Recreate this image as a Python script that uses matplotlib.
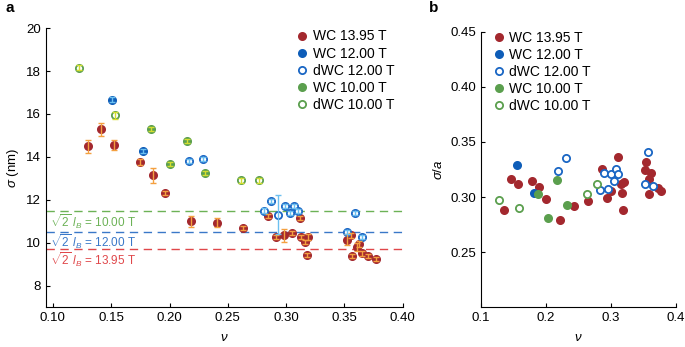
import matplotlib.pyplot as plt

plt.rcParams['font.family'] = ['Liberation Sans', 'DejaVu Sans']
plt.rcParams['mathtext.fontset'] = 'custom'
plt.rcParams['mathtext.rm'] = 'Liberation Sans'
plt.rcParams['mathtext.it'] = 'Liberation Sans:italic'
plt.rcParams['mathtext.sf'] = 'Liberation Sans'
plt.rcParams['font.size'] = 9.5

# colores
rojo = "#a3282e"
azul = "#0e5db8"
azul_open = "#1a66c4"
verde = "#5b9f4e"

# ---------------- panel a : sigma (nm) vs nu ----------------
wc14_nu = [0.1297, 0.1415, 0.1524, 0.1746, 0.1856, 0.1965, 0.2187, 0.2409, 0.2628,
           0.2847, 0.2910, 0.2985, 0.3048, 0.3115, 0.3129, 0.3158, 0.3187, 0.3178,
           0.3523, 0.3560, 0.3567, 0.3610, 0.3625, 0.3650, 0.3705, 0.3770]
wc14_sig = [14.50, 15.28, 14.55, 13.76, 13.15, 12.31, 10.99, 10.93, 10.68,
            11.24, 10.26, 10.34, 10.46, 11.16, 10.28, 10.03, 10.26, 9.44,
            10.14, 10.34, 9.38, 9.80, 9.95, 9.50, 9.38, 9.23]
wc14_err = [0.30, 0.30, 0.25, 0.15, 0.35, 0.10, 0.25, 0.20, 0.10,
            0.10, 0.10, 0.30, 0.10, 0.10, 0.10, 0.10, 0.15, 0.10,
            0.25, 0.10, 0.10, 0.20, 0.15, 0.10, 0.10, 0.10]

wc12_nu = [0.1507, 0.1772]
wc12_sig = [16.67, 14.27]
wc12_err = [0.10, 0.10]

dwc12_nu = [0.2164, 0.2285, 0.2806, 0.2869, 0.2933, 0.2988, 0.3037, 0.3068, 0.3100,
            0.3518, 0.3590, 0.3653]
dwc12_sig = [13.80, 13.90, 11.50, 11.96, 11.30, 11.70, 11.38, 11.72, 11.47,
             10.49, 11.38, 10.26]
dwc12_err = [0.10, 0.10, 0.10, 0.10, 0.90, 0.10, 0.10, 0.10, 0.10,
             0.10, 0.10, 0.10]

wc10_nu = [0.1844, 0.2000, 0.2152, 0.2308]
wc10_sig = [15.29, 13.66, 14.75, 13.26]
wc10_err = [0.10, 0.10, 0.10, 0.10]

dwc10_nu = [0.1225, 0.1536, 0.2610, 0.2763]
dwc10_sig = [18.15, 15.93, 12.90, 12.90]
dwc10_err = [0.12, 0.15, 0.10, 0.10]

# sqrt(2) l_B para cada campo
lineas_lb = [11.48, 10.48, 9.72]
textos_lb = ["10.00 T", "12.00 T", "13.95 T"]
colores_lb = ["#6cb256", "#3a78c8", "#e0474a"]
y_textos_lb = [10.99, 10.06, 9.22]

# ---------------- panel b : sigma/a vs nu ----------------
b_wc14_nu = [0.1354, 0.1462, 0.1574, 0.1789, 0.1897, 0.2000, 0.2215, 0.2431, 0.2641,
             0.2857, 0.2934, 0.3000, 0.3113, 0.3154, 0.3205, 0.3170, 0.3190,
             0.3528, 0.3540, 0.3589, 0.3580, 0.3615, 0.3718, 0.3769]
b_wc14_val = [0.2883, 0.3160, 0.3115, 0.3145, 0.3090, 0.2980, 0.2792, 0.2914, 0.2964,
              0.3251, 0.2989, 0.3055, 0.3366, 0.3115, 0.3136, 0.3040, 0.2880,
              0.3250, 0.3320, 0.3160, 0.3031, 0.3215, 0.3086, 0.3055]

b_wc12_nu = [0.1559, 0.1815]
b_wc12_val = [0.3290, 0.3040]

b_dwc12_nu = [0.2185, 0.2308, 0.2835, 0.2958, 0.2887, 0.3000, 0.3070, 0.3113, 0.3051,
              0.3574, 0.3523, 0.3650]
b_dwc12_val = [0.3240, 0.3353, 0.3064, 0.3077, 0.3221, 0.3206, 0.3257, 0.3206, 0.3145,
               0.3411, 0.3115, 0.3100]

b_wc10_nu = [0.1882, 0.2025, 0.2174, 0.2328]
b_wc10_val = [0.3030, 0.2810, 0.3154, 0.2925]

b_dwc10_nu = [0.1282, 0.1585, 0.2626, 0.2785]
b_dwc10_val = [0.2970, 0.2898, 0.3031, 0.3115]


fig = plt.figure(figsize=(6.85, 3.47), dpi=100)
ax1 = fig.add_axes([0.067, 0.115, 0.521, 0.804])
ax2 = fig.add_axes([0.702, 0.115, 0.285, 0.793])

ms = 5.2

# series del panel a: (nu, sigma, error, color, relleno, color barra, etiqueta)
series_a = [
    (wc14_nu, wc14_sig, wc14_err, rojo, rojo, "#f4a040", "WC 13.95 T"),
    (wc12_nu, wc12_sig, wc12_err, azul, azul, "#6cc0f0", "WC 12.00 T"),
    (dwc12_nu, dwc12_sig, dwc12_err, azul_open, "white", "#6cc0f0", "dWC 12.00 T"),
    (wc10_nu, wc10_sig, wc10_err, verde, verde, "#d4de30", "WC 10.00 T"),
    (dwc10_nu, dwc10_sig, dwc10_err, verde, "white", "#d4de30", "dWC 10.00 T"),
]

for nu, sig, err, col, fill, ecol, lab in series_a:
    ax1.plot(nu, sig, "o", ms=ms, mfc=fill, mec=col, mew=1.3,
             linestyle="none", label=lab, zorder=3)
    ax1.errorbar(nu, sig, yerr=err, fmt="none", ecolor=ecol,
                 elinewidth=1.0, capsize=2.2, capthick=1.0, zorder=4)

for y, t, c, yt in zip(lineas_lb, textos_lb, colores_lb, y_textos_lb):
    ax1.axhline(y, color=c, lw=1.0, dashes=(6, 4), zorder=1)
    ax1.text(0.0972, yt, r"$\sqrt{2}\ l_B$ = " + t, color=c,
             fontsize=8.5, va="center", ha="left")

ax1.set_xlim(0.094, 0.40)
ax1.set_ylim(7, 20)
ax1.set_xticks([0.10, 0.15, 0.20, 0.25, 0.30, 0.35, 0.40])
ax1.set_xticklabels(["0.10", "0.15", "0.20", "0.25", "0.30", "0.35", "0.40"])
ax1.set_yticks([8, 10, 12, 14, 16, 18, 20])
ax1.set_xlabel(r"$\nu$", labelpad=6)
ax1.set_ylabel(r"$\sigma$ (nm)", labelpad=4)
ax1.legend(loc="upper right", bbox_to_anchor=(1.0, 1.025), frameon=False,
           handletextpad=0.15, labelspacing=0.22, borderaxespad=0.2,
           handlelength=1.2, fontsize=10)

# panel b
series_b = [
    (b_wc14_nu, b_wc14_val, rojo, rojo, "WC 13.95 T"),
    (b_wc12_nu, b_wc12_val, azul, azul, "WC 12.00 T"),
    (b_dwc12_nu, b_dwc12_val, azul_open, "white", "dWC 12.00 T"),
    (b_wc10_nu, b_wc10_val, verde, verde, "WC 10.00 T"),
    (b_dwc10_nu, b_dwc10_val, verde, "white", "dWC 10.00 T"),
]
for nu, val, col, fill, lab in series_b:
    ax2.plot(nu, val, "o", ms=ms, mfc=fill, mec=col, mew=1.3,
             linestyle="none", label=lab)

ax2.set_xlim(0.1, 0.4)
ax2.set_ylim(0.2, 0.45)
ax2.set_xticks([0.1, 0.2, 0.3, 0.4])
ax2.set_yticks([0.25, 0.30, 0.35, 0.40, 0.45])
ax2.set_yticklabels(["0.25", "0.30", "0.35", "0.40", "0.45"])
ax2.set_xlabel(r"$\nu$", labelpad=6)
ax2.set_ylabel(r"$\sigma/a$", labelpad=4)
ax2.legend(loc="upper left", bbox_to_anchor=(0.0, 1.04), frameon=False,
           handletextpad=0.15, labelspacing=0.22, borderaxespad=0.3,
           handlelength=1.2, fontsize=10)

for ax in (ax1, ax2):
    ax.spines["top"].set_visible(False)
    ax.spines["right"].set_visible(False)
    ax.tick_params(direction="in", length=3, width=0.8, labelsize=9.5)

fig.text(0.008, 0.965, "a", fontsize=11, fontweight="bold")
fig.text(0.626, 0.965, "b", fontsize=11, fontweight="bold")

plt.savefig("out.png", dpi=100)
